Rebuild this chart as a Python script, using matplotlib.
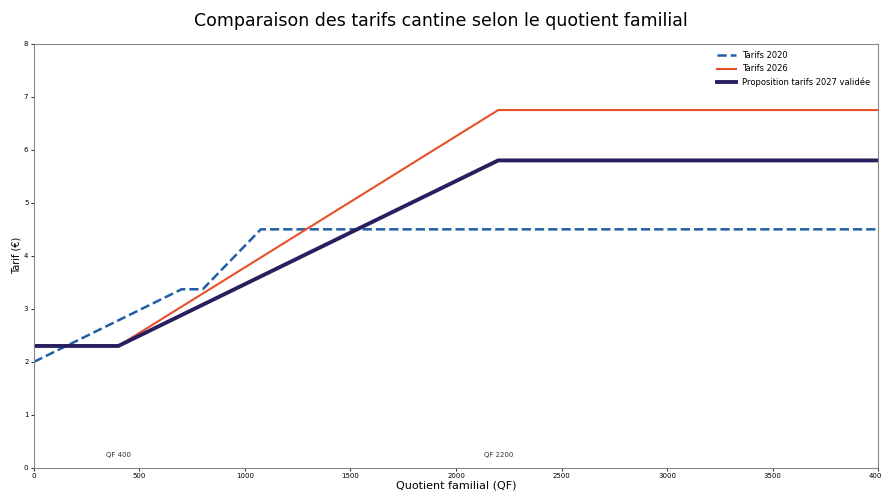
import matplotlib.pyplot as plt

# Quotient familial breakpoints and tariffs (EUR)
qf_2020 = [0, 700, 800, 1075, 4000]
tarif_2020 = [2.0, 3.37, 3.37, 4.5, 4.5]

qf_2026 = [400, 2200, 4000]
tarif_2026 = [2.3, 6.75, 6.75]

qf_2027 = [0, 400, 2200, 4000]
tarif_2027 = [2.3, 2.3, 5.8, 5.8]

markers_qf = [400, 2200]
markers_labels = ["QF 400", "QF 2200"]

fig = plt.figure(figsize=(8.82, 4.92), dpi=100)
ax = fig.add_axes([0.0385, 0.049, 0.957, 0.862])

ax.plot(qf_2020, tarif_2020, linestyle="--", color="#1f5fa8", linewidth=1.8, label="Tarifs 2020")
ax.plot(qf_2026, tarif_2026, color="#e8502a", linewidth=1.5, label="Tarifs 2026")
ax.plot(qf_2027, tarif_2027, color="#2a1f5e", linewidth=2.8, label="Proposition tarifs 2027 validée")

for q, lab in zip(markers_qf, markers_labels):
    ax.text(q, 0.25, lab, fontsize=5, ha="center", va="center", color="#333333")

ax.set_xlim(0, 4000)
ax.set_ylim(0, 8)
ax.tick_params(labelsize=5, length=2, width=0.6, pad=2)
for s in ax.spines.values():
    s.set_color("#888888")
    s.set_linewidth(0.8)

ax.set_xlabel("Quotient familial (QF)", fontsize=8, labelpad=1)
ax.set_ylabel("Tarif (€)", fontsize=7, labelpad=2)
fig.suptitle("Comparaison des tarifs cantine selon le quotient familial", fontsize=12.5, y=0.975)

ax.legend(loc="upper right", fontsize=6, frameon=False, handlelength=2.2)

fig.savefig("out.png", dpi=100)
